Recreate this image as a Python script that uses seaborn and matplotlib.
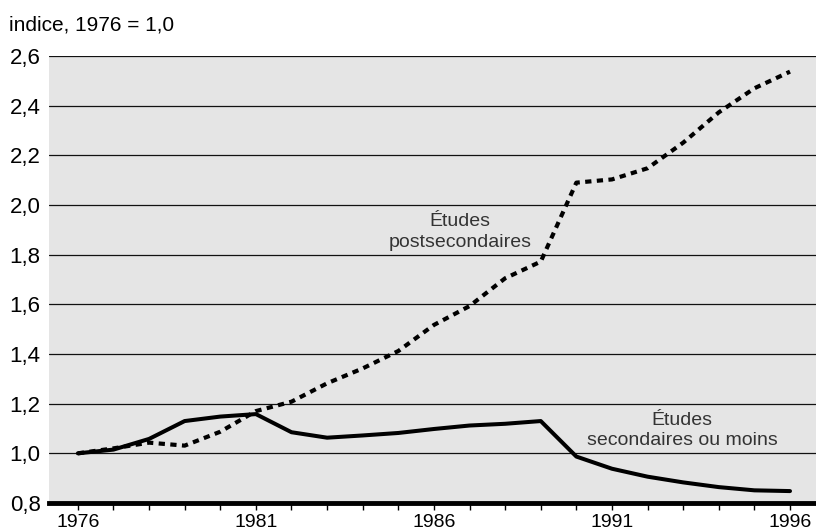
import matplotlib
matplotlib.use("Agg")
import matplotlib.pyplot as plt
import seaborn as sns
import pandas as pd
import numpy as np

years = list(range(1976, 1997))
secondaires = [1.000, 1.015, 1.058, 1.130, 1.148, 1.158, 1.085, 1.063, 1.072, 1.082,
               1.098, 1.112, 1.119, 1.130, 0.987, 0.938, 0.906, 0.883, 0.864, 0.851, 0.848]
postsecondaires = [1.000, 1.020, 1.043, 1.031, 1.087, 1.170, 1.208, 1.282, 1.342, 1.412,
                   1.517, 1.593, 1.705, 1.772, 2.090, 2.103, 2.148, 2.251, 2.373, 2.470, 2.537]
yticks = [0.8, 1.0, 1.2, 1.4, 1.6, 1.8, 2.0, 2.2, 2.4, 2.6]
xticklabels = [1976, 1981, 1986, 1991, 1996]

sns.set_theme(style="white")
plt.rcParams['font.family'] = ['Liberation Sans', 'DejaVu Sans']

df = pd.DataFrame({"annee": years, "sec": secondaires, "post": postsecondaires})

fig = plt.figure(figsize=(8.16, 5.31), dpi=100)
ax = fig.add_axes([49/816, (531-503)/531, (816-49)/816, (503-56)/531])
ax.set_facecolor("#e5e5e5")

for y in yticks[1:]:
    ax.axhline(y, color="#111111", lw=0.9, zorder=1)

sns.lineplot(data=df, x="annee", y="post", ax=ax, color="black", lw=3.0,
             linestyle=(0, (1.5, 1.3)), zorder=3)
sns.lineplot(data=df, x="annee", y="sec", ax=ax, color="black", lw=2.9, zorder=4)

ax.set_xlim(1975.19, 1996.73)
ax.set_ylim(0.8, 2.6)
ax.set_yticks(yticks)
ax.set_yticklabels([f"{v:.1f}".replace(".", ",") for v in yticks], fontsize=16, color="black")
ax.set_xticks(years, minor=True)
ax.set_xticks(xticklabels)
ax.set_xticklabels([str(v) for v in xticklabels], fontsize=14, color="black")
ax.tick_params(axis="y", length=0, pad=6)
ax.tick_params(axis="x", which="both", direction="out", length=5, width=1, color="black",
               bottom=True, pad=3)
ax.set_xlabel("")
ax.set_ylabel("")

for side in ["left", "right", "top"]:
    ax.spines[side].set_visible(False)
ax.spines["bottom"].set_linewidth(3.5)
ax.spines["bottom"].set_color("black")

ax.text(1986.74, 1.891, "Études\npostsecondaires", ha="center", va="center",
        fontsize=14, color="#333333", linespacing=1.25)
ax.text(1992.97, 1.092, "Études\nsecondaires ou moins", ha="center", va="center",
        fontsize=14, color="#333333", linespacing=1.25)

fig.text(9/816, 1 - 25/531, "indice, 1976 = 1,0", ha="left", va="center",
         fontsize=15, color="black")

fig.savefig("out.png", dpi=100)
